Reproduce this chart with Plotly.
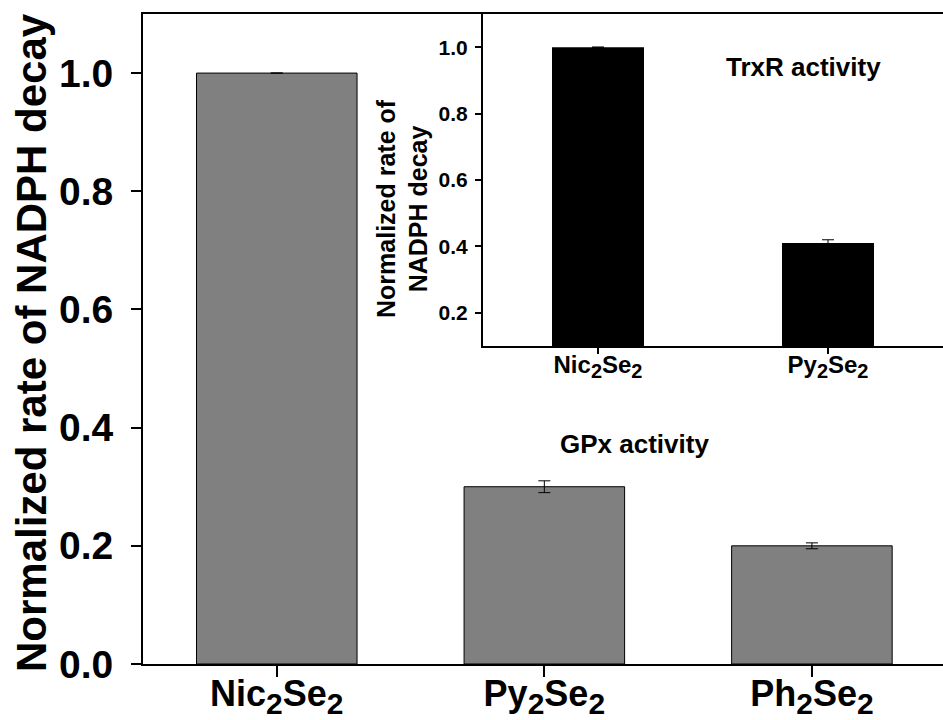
import plotly.graph_objects as go

# ---- data ----
main_names = ["Nic", "Py", "Ph"]
main_values = [1.0, 0.30, 0.20]
main_errors = [None, 0.01, 0.005]

inset_names = ["Nic", "Py"]
inset_values = [1.0, 0.41]
inset_errors = [None, 0.01]

y_title = "Normalized rate of NADPH decay"
inset_y_title = "Normalized rate of<br>NADPH decay"
main_label = "GPx activity"
inset_label = "TrxR activity"

FONT = "Liberation Sans, Arial, Helvetica, sans-serif"


def chem(name, sub_px):
    s = "<sub><span style='font-size:%dpx'>2</span></sub>" % sub_px
    return name + s + "Se" + s


main_ticktext = [chem(n, 30) for n in main_names]
inset_ticktext = [chem(n, 20) for n in inset_names]

fig = go.Figure()

fig.add_trace(go.Bar(
    x=list(range(len(main_values))), y=main_values, width=0.6,
    marker=dict(color="#808080", line=dict(color="black", width=1)),
    error_y=dict(type="data", array=main_errors, color="black", thickness=1, width=6),
    xaxis="x", yaxis="y", showlegend=False,
))

fig.add_trace(go.Bar(
    x=list(range(len(inset_values))), y=inset_values, width=0.4,
    marker=dict(color="black", line=dict(color="black", width=0)),
    error_y=dict(type="data", array=inset_errors, color="black", thickness=1, width=6),
    xaxis="x2", yaxis="y2", showlegend=False,
))

fig.update_layout(
    width=943, height=720,
    margin=dict(l=143, r=0, t=14, b=56, autoexpand=False),
    paper_bgcolor="white", plot_bgcolor="rgba(0,0,0,0)",
    font=dict(family=FONT, color="black"),
    xaxis=dict(
        domain=[0, 1], range=[-0.5, 2.49], automargin=False,
        tickmode="array", tickvals=list(range(len(main_names))), ticktext=main_ticktext,
        tickfont=dict(size=36, weight="bold"),
        showline=True, linecolor="black", linewidth=2, mirror=True,
        ticks="outside", ticklen=11, tickwidth=2, tickcolor="black",
        showgrid=False, zeroline=False, ticklabelstandoff=-14,
    ),
    yaxis=dict(
        domain=[0, 1], range=[0, 1.1], automargin=False,
        tickmode="linear", tick0=0, dtick=0.2, tickformat=".1f",
        tickfont=dict(size=39, weight="bold"),
        showline=True, linecolor="black", linewidth=2,
        ticks="outside", ticklen=10, tickwidth=2, tickcolor="black",
        showgrid=False, zeroline=False, ticklabelstandoff=10,
    ),
    xaxis2=dict(
        domain=[0.425, 1.0], range=[-0.5, 1.5], anchor="y2", automargin=False,
        tickmode="array", tickvals=list(range(len(inset_names))), ticktext=inset_ticktext,
        tickfont=dict(size=24, weight="bold"),
        showline=True, linecolor="black", linewidth=2,
        ticks="outside", ticklen=6, tickwidth=2, tickcolor="black",
        showgrid=False, zeroline=False, ticklabelstandoff=-10,
    ),
    yaxis2=dict(
        domain=[0.4892, 1.0], range=[0.1, 1.1], anchor="x2", automargin=False,
        tickmode="linear", tick0=0, dtick=0.2, tickformat=".1f",
        tickfont=dict(size=21, weight="bold"),
        showline=True, linecolor="black", linewidth=2,
        ticks="outside", ticklen=6, tickwidth=2, tickcolor="black",
        showgrid=False, zeroline=False, ticklabelstandoff=3,
    ),
    annotations=[
        dict(text=y_title, textangle=-90, x=-0.14, y=0.4938, xref="paper", yref="paper",
             xanchor="center", yanchor="middle", showarrow=False,
             font=dict(size=42, weight="bold", family=FONT)),
        dict(text=inset_y_title, textangle=-90, x=0.3237, y=0.7015, xref="paper", yref="paper",
             xanchor="center", yanchor="middle", showarrow=False,
             font=dict(size=25, weight="bold", family=FONT)),
        dict(text=main_label, x=0.6144, y=0.3385, xref="paper", yref="paper",
             xanchor="center", yanchor="middle", showarrow=False,
             font=dict(size=26, weight="bold", family=FONT)),
        dict(text=inset_label, x=0.8256, y=0.9185, xref="paper", yref="paper",
             xanchor="center", yanchor="middle", showarrow=False,
             font=dict(size=26, weight="bold", family=FONT)),
    ],
)

fig.write_html("out.html")
